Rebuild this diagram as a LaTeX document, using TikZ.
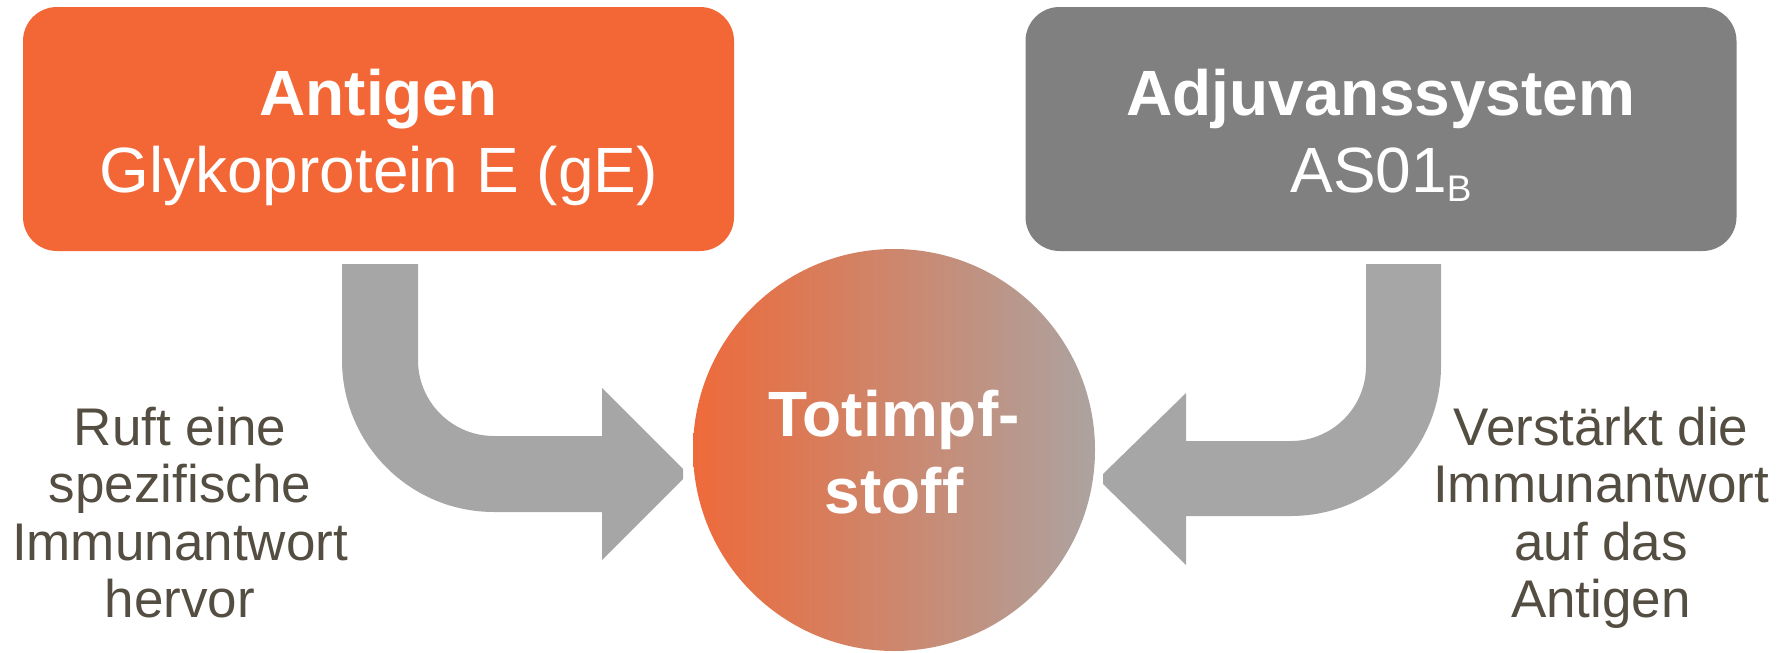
\documentclass[tikz,border=0pt]{standalone}
\usepackage{fontspec}
\setmainfont{Liberation Sans}
\definecolor{antigenorange}{RGB}{242,103,53}
\definecolor{adjgrey}{RGB}{128,128,128}
\definecolor{arrowgrey}{RGB}{166,166,166}
\definecolor{labeltext}{RGB}{84,78,66}
\definecolor{vaxleft}{RGB}{238,106,58}
\definecolor{vaxright}{RGB}{172,163,160}
\begin{document}
\begin{tikzpicture}[x=1pt,y=-1pt,
  box/.style={rounded corners=34pt, minimum width=711pt, minimum height=244pt, inner sep=0pt},
  boxtitle/.style={anchor=base, text=white, inner sep=0pt, font=\fontsize{64}{77}\selectfont\bfseries},
  boxsub/.style={anchor=base, text=white, inner sep=0pt, font=\fontsize{64}{77}\selectfont},
  vaxtext/.style={anchor=base, text=white, inner sep=0pt, font=\fontsize{64}{77}\selectfont\bfseries},
  sidetext/.style={anchor=base, text=labeltext, inner sep=0pt, font=\fontsize{53}{58}\selectfont},
  bentarrow/.style={fill=arrowgrey, draw=none}
]
\useasboundingbox (0,0) rectangle (1791,653);

% component boxes
\node[box, fill=antigenorange] (antigen) at (378.5,129) {};
\node[box, fill=adjgrey] (adjuvant) at (1381,129) {};

\node[boxtitle] (antigenT) at (378.5,115) {Antigen};
\node[boxsub] (antigenS) at (378.5,192) {Glykoprotein E (gE)};
\node[boxtitle] (adjuvantT) at (1381,115) {Adjuvanssystem};
\node[boxsub] (adjuvantS) at (1381,192) {AS01\raisebox{-9pt}{\fontsize{37}{37}\selectfont B}};

% bent arrows feeding the vaccine
\fill[bentarrow] (342,264) -- (418,264) -- (418,360)
  .. controls (418,402) and (452,436) .. (494,436)
  -- (602,436) -- (602,388) -- (683,469) -- (683,479) -- (602,560) -- (602,512)
  -- (494,512)
  .. controls (410,512) and (342,444) .. (342,360) -- cycle;

\fill[bentarrow] (1441,264) -- (1366,264) -- (1366,366)
  .. controls (1366,407.4) and (1332.4,441) .. (1291,441)
  -- (1186,441) -- (1186,393) -- (1103,474) -- (1103,484) -- (1186,565) -- (1186,516)
  -- (1291,516)
  .. controls (1373.8,516) and (1441,448.8) .. (1441,366) -- cycle;

% vaccine
\node[circle, minimum size=402pt, inner sep=0pt, left color=vaxleft, right color=vaxright] (vaccine) at (894,450) {};
\node[vaxtext] (vax1) at (894,436) {Totimpf-};
\node[vaxtext] (vax2) at (894,513) {stoff};

% effect descriptions
\node[sidetext] (l1) at (180,445) {Ruft eine};
\node[sidetext] (l2) at (180,502.5) {spezifische};
\node[sidetext] (l3) at (180,560) {Immunantwort};
\node[sidetext] (l4) at (180,617.5) {hervor};

\node[sidetext] (r1) at (1601,445) {Verstärkt die};
\node[sidetext] (r2) at (1601,502.5) {Immunantwort};
\node[sidetext] (r3) at (1601,560) {auf das};
\node[sidetext] (r4) at (1601,617.5) {Antigen};
\end{tikzpicture}
\end{document}
